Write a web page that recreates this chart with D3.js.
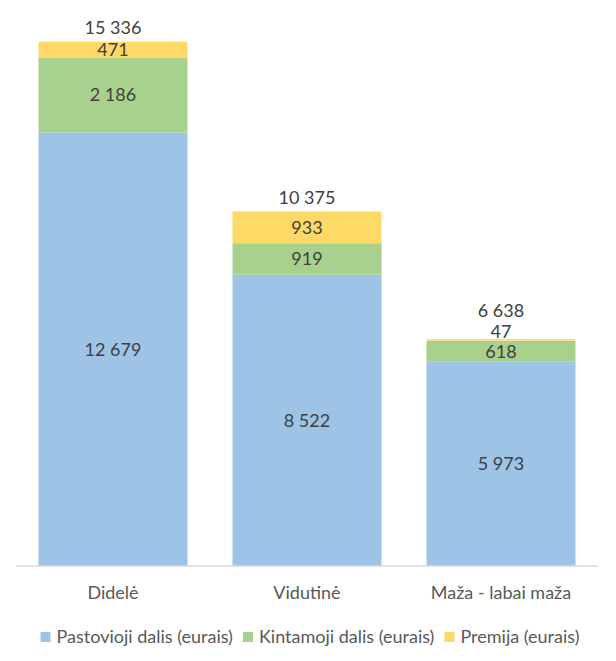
<!DOCTYPE html>
<html>
<head>
<meta charset="utf-8">
<title>Atlygis pagal įmonės dydį</title>
<script src="https://d3js.org/d3.v7.min.js"></script>
<style>
  body { margin: 0; background: #fff; }
  svg { font-family: Lato, "Open Sans", sans-serif; }
  .val { font-size: 18px; fill: #404040; }
  .cat { font-size: 18px; fill: #595959; }
  .leg { font-size: 18px; fill: #595959; }
</style>
</head>
<body>
<script>
// ---- data ----
var categories = ["Didelė", "Vidutinė", "Maža - labai maža"];
var seriesNames = ["Pastovioji dalis (eurais)", "Kintamoji dalis (eurais)", "Premija (eurais)"];
var pastovioji = [12679, 8522, 5973];
var kintamoji  = [2186, 919, 618];
var premija    = [471, 933, 47];
var totals     = [15336, 10375, 6638];
var colors = ["#9DC3E6", "#A9D18E", "#FFD966"];

// ---- sizes ----
var W = 616, H = 661;
var plot = { left: 16, right: 598, top: 19, bottom: 566 };

var svg = d3.select("body").append("svg").attr("width", W).attr("height", H);

var x = d3.scaleBand().domain(categories).range([plot.left, plot.right]).paddingInner(0.232).paddingOuter(0.116);
var y = d3.scaleLinear().domain([0, 16000]).range([plot.bottom, plot.top]);

var table = categories.map(function (c, i) {
  return { cat: c, s0: pastovioji[i], s1: kintamoji[i], s2: premija[i], total: totals[i] };
});
var stack = d3.stack().keys(["s0", "s1", "s2"])(table);

var fmt = function (v) { return d3.format(",")(v).replace(/,/g, " "); };

stack.forEach(function (layer, li) {
  var g = svg.append("g");
  g.selectAll("rect").data(layer).enter().append("rect")
    .attr("x", function (d) { return x(d.data.cat); })
    .attr("width", x.bandwidth())
    .attr("y", function (d) { return y(d[1]); })
    .attr("height", function (d) { return y(d[0]) - y(d[1]); })
    .attr("fill", colors[li]);
});

// axis line
svg.append("line")
  .attr("x1", plot.left).attr("x2", plot.right)
  .attr("y1", plot.bottom).attr("y2", plot.bottom)
  .attr("stroke", "#D9D9D9").attr("stroke-width", 1.5);

// segment labels
var labelG = svg.append("g");
stack.forEach(function (layer, li) {
  layer.forEach(function (d) {
    var h = y(d[0]) - y(d[1]);
    var cy = (y(d[0]) + y(d[1])) / 2;
    if (h < 12) cy = y(d[1]) - 7;   // tiny segment: lift label
    labelG.append("text").attr("class", "val")
      .attr("x", x(d.data.cat) + x.bandwidth() / 2)
      .attr("y", cy).attr("dy", "0.35em")
      .attr("text-anchor", "middle")
      .text(fmt(d.data["s" + li]));
  });
});

// totals
table.forEach(function (d) {
  var top = y(d.total);
  var small = (y(d.total - d.s2) - top) < 12;
  labelG.append("text").attr("class", "val")
    .attr("x", x(d.cat) + x.bandwidth() / 2)
    .attr("y", top - (small ? 28 : 14)).attr("dy", "0.35em")
    .attr("text-anchor", "middle")
    .text(fmt(d.total));
});

// category labels
svg.append("g").selectAll("text").data(categories).enter().append("text")
  .attr("class", "cat")
  .attr("x", function (d) { return x(d) + x.bandwidth() / 2; })
  .attr("y", 593).attr("dy", "0.35em")
  .attr("text-anchor", "middle")
  .text(function (d) { return d; });

// legend
var legG = svg.append("g");
var items = legG.selectAll("g").data(seriesNames).enter().append("g");
items.append("rect").attr("width", 10).attr("height", 10).attr("y", -5)
  .attr("fill", function (d, i) { return colors[i]; });
items.append("text").attr("class", "leg").attr("x", 16).attr("dy", "0.35em")
  .text(function (d) { return d; });
var widths = [];
items.each(function () { widths.push(this.getBBox().width); });
var gap = 10;
var totalW = d3.sum(widths) + gap * (widths.length - 1);
var cx = (W - totalW) / 2 + 2;
items.attr("transform", function (d, i) {
  var t = "translate(" + cx + ",637)";
  cx += widths[i] + gap;
  return t;
});
</script>
</body>
</html>
